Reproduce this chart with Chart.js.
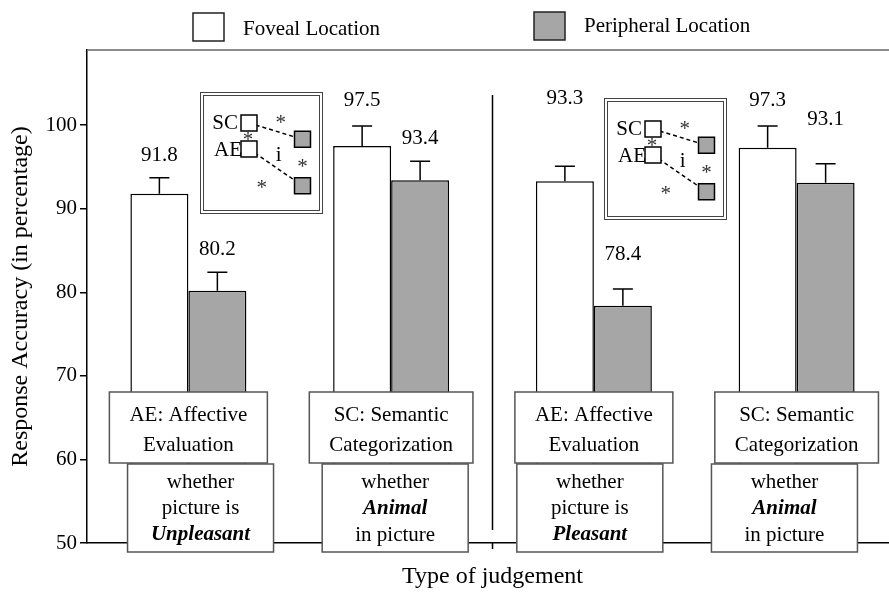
<!DOCTYPE html>
<html>
<head>
<meta charset="utf-8">
<script src="https://cdn.jsdelivr.net/npm/chart.js@4.4.1/dist/chart.umd.min.js"></script>
<style>
  html, body { margin: 0; padding: 0; background: #fff; overflow: hidden; }
  #wrap { position: relative; width: 900px; height: 593px; }
  #main { position: absolute; left: 0; top: 0; }
  .inset { position: absolute; width: 115px; height: 114px; border: 4px double #444; background: #fff; }
  .inset canvas { display: block; }
</style>
</head>
<body>
<div id="wrap">
  <canvas id="main" width="900" height="593"></canvas>
  <div class="inset" style="left:200px; top:92px;"><canvas id="inset1" width="115" height="114"></canvas></div>
  <div class="inset" style="left:604px; top:98px;"><canvas id="inset2" width="115" height="114"></canvas></div>
</div>
<script>
const serif = "'Liberation Serif', 'Times New Roman', serif";
Chart.defaults.font.family = serif;
Chart.defaults.font.size = 21;
Chart.defaults.color = '#000';

// one bar pair per judgement type, two experiments side by side
const categories = ['AE Unpleasant', 'SC Animal', 'AE Pleasant', 'SC Animal'];
const taskLabels = [
  ['AE: Affective', 'Evaluation'],
  ['SC: Semantic', 'Categorization'],
  ['AE: Affective', 'Evaluation'],
  ['SC: Semantic', 'Categorization']
];
// *word* = bold italic
const questionLabels = [
  ['whether', 'picture is', '*Unpleasant*'],
  ['whether', '*Animal*', 'in picture'],
  ['whether', 'picture is', '*Pleasant*'],
  ['whether', '*Animal*', 'in picture']
];

const foveal = [91.8, 97.5, 93.3, 97.3];
const peripheral = [80.2, 93.4, 78.4, 93.1];
const fovealErr = [1.9, 2.4, 1.8, 2.6];
const peripheralErr = [2.2, 2.3, 2.0, 2.3];
const yTicks = [50, 60, 70, 80, 90, 100];

// schematic interaction sketch (same in both insets), levels on a 0-10 scale
const sketchX = ['Foveal', 'Peripheral'];
const sketchSC = [8.4, 6.55];
const sketchAE = [5.45, 1.3];

const GRAY = '#a6a6a6';
// extra lift (px) of some value labels, as placed in the original
const labelLift = [[0, 3, 45, 3], [0, 0, 12, 22]];

// legend boxes at the top
const topLegend = {
  id: 'topLegend',
  afterDraw(chart) {
    const ctx = chart.ctx;
    const spots = [{ x: 193, y: 13, ty: 35 }, { x: 534, y: 12, ty: 32 }];
    ctx.save();
    chart.data.datasets.forEach((ds, i) => {
      const s = spots[i];
      ctx.fillStyle = ds.backgroundColor;
      ctx.strokeStyle = '#222';
      ctx.lineWidth = 1.5;
      ctx.fillRect(s.x, s.y, 31, 28);
      ctx.strokeRect(s.x, s.y, 31, 28);
      ctx.fillStyle = '#000';
      ctx.font = '21px ' + serif;
      ctx.textAlign = 'left';
      ctx.textBaseline = 'alphabetic';
      ctx.fillText(ds.label, s.x + 50, s.ty);
    });
    ctx.restore();
  }
};

function drawLines(ctx, lines, cx, top, step, first) {
  lines.forEach((line, k) => {
    let txt = line;
    if (line.startsWith('*')) {
      txt = line.replace(/\*/g, '');
      ctx.font = 'italic bold 21px ' + serif;
    } else {
      ctx.font = '21px ' + serif;
    }
    ctx.fillText(txt, cx, top + first + k * step);
  });
}

const overlay = {
  id: 'overlay',
  afterDatasetsDraw(chart) {
    const { ctx, chartArea: a, scales: { y } } = chart;
    ctx.save();
    // frame line at the top of the plot
    ctx.strokeStyle = '#666';
    ctx.lineWidth = 1.5;
    ctx.beginPath();
    ctx.moveTo(a.left, a.top);
    ctx.lineTo(chart.width, a.top);
    ctx.stroke();

    // error bars and value labels
    [[foveal, fovealErr], [peripheral, peripheralErr]].forEach(([vals, errs], d) => {
      chart.getDatasetMeta(d).data.forEach((bar, i) => {
        const top = y.getPixelForValue(vals[i]);
        const cap = y.getPixelForValue(vals[i] + errs[i]);
        ctx.strokeStyle = '#000';
        ctx.lineWidth = 1.5;
        ctx.beginPath();
        ctx.moveTo(bar.x, top);
        ctx.lineTo(bar.x, cap);
        ctx.moveTo(bar.x - 10, cap);
        ctx.lineTo(bar.x + 10, cap);
        ctx.stroke();
        ctx.fillStyle = '#000';
        ctx.font = '21px ' + serif;
        ctx.textAlign = 'center';
        ctx.textBaseline = 'alphabetic';
        ctx.fillText(vals[i].toFixed(1), bar.x, cap - 17 - labelLift[d][i]);
      });
    });
    ctx.restore();
  },
  afterDraw(chart) {
    const { ctx, chartArea: a, scales: { x } } = chart;
    ctx.save();
    // divider between the two experiments
    const mid = x.getPixelForValue(1.5);
    ctx.strokeStyle = '#000';
    ctx.lineWidth = 1.5;
    ctx.beginPath();
    ctx.moveTo(mid, a.top + 45);
    ctx.lineTo(mid, a.bottom - 13);
    ctx.moveTo(mid, a.bottom);
    ctx.lineTo(mid, a.bottom + 6);
    ctx.stroke();

    // task boxes and question boxes over the bar bottoms
    ctx.textAlign = 'center';
    ctx.textBaseline = 'middle';
    categories.forEach((c, i) => {
      const cx = x.getPixelForValue(i);

      ctx.font = '21px ' + serif;
      const w1 = Math.max(...taskLabels[i].map(t => ctx.measureText(t).width)) + 40;
      const t1 = a.bottom - 151;
      ctx.fillStyle = '#fff';
      ctx.strokeStyle = '#555';
      ctx.lineWidth = 1.5;
      ctx.fillRect(cx - w1 / 2, t1, w1, 71);
      ctx.strokeRect(cx - w1 / 2, t1, w1, 71);
      ctx.fillStyle = '#000';
      drawLines(ctx, taskLabels[i], cx, t1, 30, 23);

      // question boxes sit slightly toward the middle of the figure
      const qx = cx + (mid - cx) * 0.04;
      const w2 = 146;
      const t2 = a.bottom - 79;
      ctx.fillStyle = '#fff';
      ctx.fillRect(qx - w2 / 2, t2, w2, 88);
      ctx.strokeRect(qx - w2 / 2, t2, w2, 88);
      ctx.fillStyle = '#000';
      drawLines(ctx, questionLabels[i], qx, t2, 26.5, 18);
    });
    ctx.restore();
  }
};

new Chart(document.getElementById('main'), {
  type: 'bar',
  data: {
    labels: categories,
    datasets: [
      { label: 'Foveal Location', data: foveal, backgroundColor: '#fff', borderColor: '#000', borderWidth: 1.5 },
      { label: 'Peripheral Location', data: peripheral, backgroundColor: GRAY, borderColor: '#000', borderWidth: 1.5 }
    ]
  },
  options: {
    responsive: false,
    animation: false,
    events: [],
    layout: { padding: { top: 50, right: 2, left: 0, bottom: 0 } },
    datasets: { bar: { categoryPercentage: 0.572, barPercentage: 1 } },
    scales: {
      x: {
        offset: true,
        grid: { display: false },
        ticks: { display: false },
        border: { color: '#000', width: 1.5 },
        title: { display: true, text: 'Type of judgement', font: { size: 24 }, padding: { top: 0, bottom: 2 } },
        afterFit: s => { s.height = 50; }
      },
      y: {
        min: 50,
        max: 109,
        afterBuildTicks: s => { s.ticks = yTicks.map(v => ({ value: v })); },
        ticks: { padding: 3, font: { size: 21 } },
        grid: { drawOnChartArea: false, tickLength: 7, color: '#000', lineWidth: 1.5 },
        border: { color: '#000', width: 1.5 },
        title: { display: true, text: 'Response Accuracy (in percentage)', font: { size: 24 }, padding: { top: 6, bottom: 0 } },
        afterFit: s => { s.width = 87; }
      }
    },
    plugins: { legend: { display: false }, tooltip: { enabled: false } }
  },
  plugins: [topLegend, overlay]
});

// small interaction sketches: SC and AE, foveal -> peripheral
const insetMarks = {
  id: 'insetMarks',
  afterDatasetsDraw(chart) {
    const ctx = chart.ctx;
    const sc = chart.getDatasetMeta(0).data;
    const ae = chart.getDatasetMeta(1).data;
    const mid = p => ({ x: (p[0].x + p[1].x) / 2, y: (p[0].y + p[1].y) / 2 });
    const m1 = mid(sc), m2 = mid(ae);
    ctx.save();
    ctx.fillStyle = '#000';
    ctx.font = '21px ' + serif;
    ctx.textAlign = 'right';
    ctx.textBaseline = 'middle';
    ctx.fillText('SC', sc[0].x - 11, sc[0].y + 1);
    ctx.fillText('AE', ae[0].x - 7, ae[0].y + 1);
    ctx.textAlign = 'center';
    ctx.textBaseline = 'alphabetic';
    ctx.fillText('i', m2.x + 3, m2.y - 6);
    ctx.fillStyle = '#333';
    const star = (px, py) => ctx.fillText('*', px, py + 10);
    star(m1.x + 5, m1.y - 12);
    star(ae[0].x - 1, ae[0].y - 13.5);
    star(sc[1].x, (sc[1].y + ae[1].y) / 2);
    star(m2.x - 14, m2.y + 17);
    ctx.restore();
  }
};

function makeInset(id) {
  const line = {
    borderColor: '#000', borderWidth: 1.5, borderDash: [4, 3],
    pointStyle: 'rect', pointRadius: 11.3, pointBorderWidth: 1.5, pointBorderColor: '#000',
    pointBackgroundColor: ['#fff', GRAY], clip: false
  };
  new Chart(document.getElementById(id), {
    type: 'line',
    data: {
      labels: sketchX,
      datasets: [
        Object.assign({ label: 'SC', data: sketchSC }, line),
        Object.assign({ label: 'AE', data: sketchAE }, line)
      ]
    },
    options: {
      responsive: false,
      animation: false,
      events: [],
      layout: { padding: { left: 45, right: 16.5, top: 0, bottom: 0 } },
      scales: { x: { display: false }, y: { display: false, min: 0, max: 10 } },
      plugins: { legend: { display: false }, tooltip: { enabled: false } }
    },
    plugins: [insetMarks]
  });
}

makeInset('inset1');
makeInset('inset2');
</script>
</body>
</html>
